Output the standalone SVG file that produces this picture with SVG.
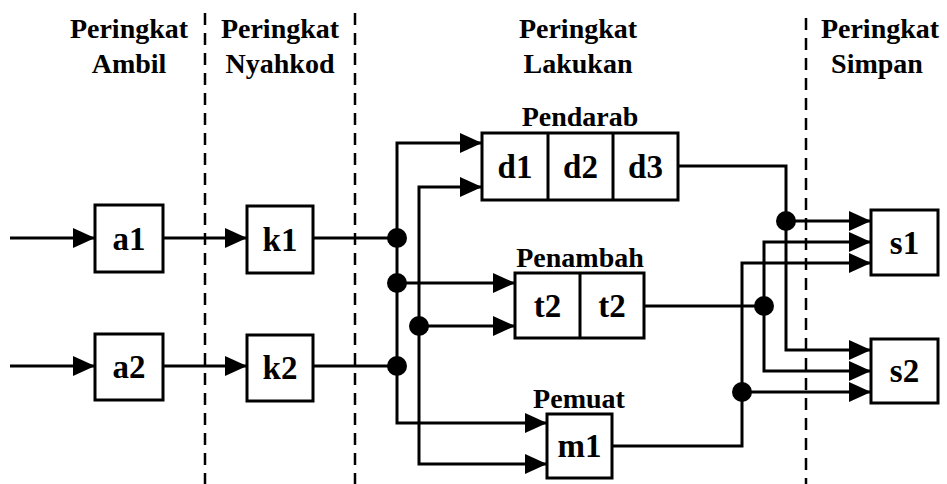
<svg xmlns="http://www.w3.org/2000/svg" width="947" height="484" viewBox="0 0 947 484">
<style>
  .t { font-family: "Liberation Serif", "Times New Roman", serif; font-weight: bold; fill: #000; text-anchor: middle; }
  .title { font-size: 28px; }
  .lbl { font-size: 28px; }
  .bt { font-size: 33px; }
  .box { fill: #fff; stroke: #000; stroke-width: 3; }
  .div { stroke: #000; stroke-width: 3; }
  .dash { stroke: #000; stroke-width: 2.5; stroke-dasharray: 12 8; fill: none; }
  .c { fill: none; stroke: #000; stroke-width: 3; }
  .a { marker-end: url(#arr); }
  .dot { fill: #000; }
</style>
<defs>
  <marker id="arr" markerUnits="userSpaceOnUse" markerWidth="22" markerHeight="20" refX="22" refY="10" orient="auto" viewBox="0 0 22 20">
    <path d="M0,0 L22,10 L0,20 z" fill="#000"/>
  </marker>
</defs>
<rect width="947" height="484" fill="#fff"/>

<g id="stage-lines">
  <line class="dash" x1="205" y1="13" x2="205" y2="484"/>
  <line class="dash" x1="355" y1="13" x2="355" y2="484"/>
  <line class="dash" x1="806" y1="18" x2="806" y2="484"/>
</g>

<g id="titles">
  <text class="t title" x="129" y="38">Peringkat</text>
  <text class="t title" x="129" y="73">Ambil</text>
  <text class="t title" x="280" y="38">Peringkat</text>
  <text class="t title" x="280" y="73">Nyahkod</text>
  <text class="t title" x="578" y="38">Peringkat</text>
  <text class="t title" x="578" y="73">Lakukan</text>
  <text class="t title" x="880" y="38">Peringkat</text>
  <text class="t title" x="877" y="73">Simpan</text>
</g>

<g id="connectors">
  <path class="c a" d="M10,238 H95"/>
  <path class="c a" d="M163,238 H247"/>
  <path class="c" d="M313,238 H397"/>
  <path class="c a" d="M10,366 H95"/>
  <path class="c a" d="M163,366 H247"/>
  <path class="c" d="M313,366 H397"/>
  <path class="c a" d="M397,238 V143 H482"/>
  <path class="c a" d="M397,238 V423 H547"/>
  <path class="c a" d="M397,283 H515"/>
  <path class="c a" d="M419,326 V187 H482"/>
  <path class="c a" d="M419,326 V464 H547"/>
  <path class="c a" d="M419,326 H515"/>
  <path class="c" d="M678,166 H786 V221"/>
  <path class="c a" d="M786,221 H871"/>
  <path class="c a" d="M786,221 V350 H871"/>
  <path class="c" d="M644,306 H764"/>
  <path class="c a" d="M764,306 V242 H871"/>
  <path class="c a" d="M764,306 V371 H871"/>
  <path class="c" d="M612,446 H742 V392"/>
  <path class="c a" d="M742,392 V263 H871"/>
  <path class="c a" d="M742,392 H871"/>
  <circle class="dot" cx="397" cy="238" r="10"/>
  <circle class="dot" cx="397" cy="283" r="10"/>
  <circle class="dot" cx="397" cy="366" r="10"/>
  <circle class="dot" cx="419" cy="326" r="10"/>
  <circle class="dot" cx="786" cy="221" r="10"/>
  <circle class="dot" cx="764" cy="306" r="10"/>
  <circle class="dot" cx="742" cy="392" r="10"/>
</g>

<g id="a1"><rect class="box" x="95" y="205" width="68" height="67"/><text class="t bt" x="129" y="250">a1</text></g>
<g id="a2"><rect class="box" x="95" y="334" width="68" height="66"/><text class="t bt" x="129" y="378">a2</text></g>
<g id="k1"><rect class="box" x="247" y="206" width="66" height="67"/><text class="t bt" x="280" y="251">k1</text></g>
<g id="k2"><rect class="box" x="247" y="335" width="66" height="66"/><text class="t bt" x="280" y="379">k2</text></g>

<g id="pendarab">
  <text class="t lbl" x="580" y="126">Pendarab</text>
  <rect class="box" x="482" y="133" width="196" height="67"/>
  <line class="div" x1="548" y1="133" x2="548" y2="200"/>
  <line class="div" x1="613" y1="133" x2="613" y2="200"/>
  <text class="t bt" x="515" y="178">d1</text>
  <text class="t bt" x="580.5" y="178">d2</text>
  <text class="t bt" x="645.5" y="178">d3</text>
</g>

<g id="penambah">
  <text class="t lbl" x="580" y="267">Penambah</text>
  <rect class="box" x="515" y="273" width="129" height="65"/>
  <line class="div" x1="580" y1="273" x2="580" y2="338"/>
  <text class="t bt" x="547.5" y="317">t2</text>
  <text class="t bt" x="612" y="317">t2</text>
</g>

<g id="pemuat">
  <text class="t lbl" x="579" y="408">Pemuat</text>
  <rect class="box" x="547" y="414" width="65" height="64"/>
  <text class="t bt" x="579.5" y="457">m1</text>
</g>

<g id="s1"><rect class="box" x="871" y="210" width="67" height="65"/><text class="t bt" x="904.5" y="254">s1</text></g>
<g id="s2"><rect class="box" x="871" y="339" width="67" height="64"/><text class="t bt" x="904.5" y="382">s2</text></g>
</svg>
